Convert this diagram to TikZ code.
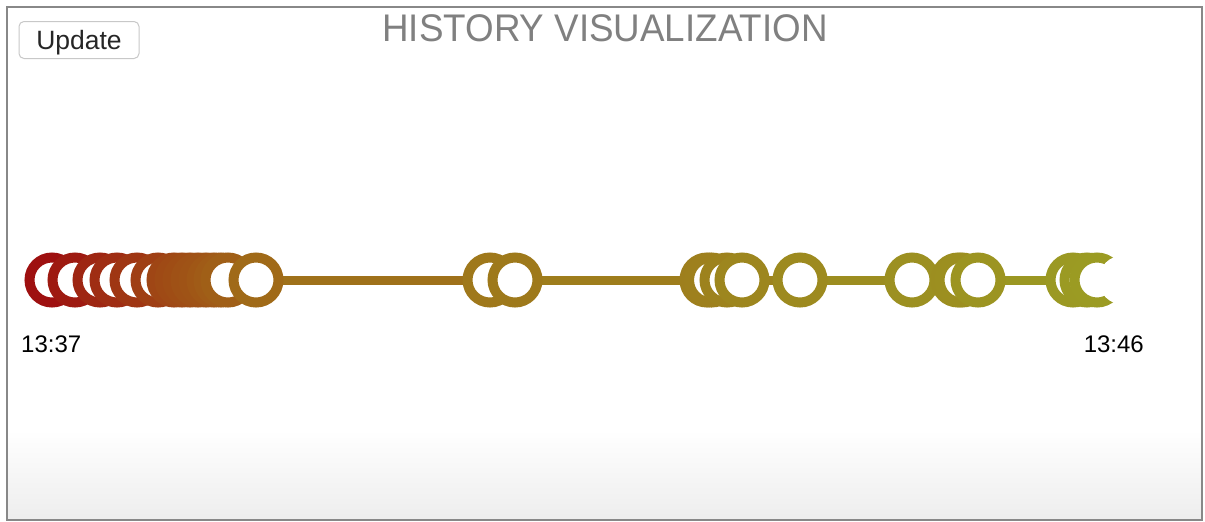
\documentclass[tikz,border=0pt]{standalone}
\usepackage{fontspec}
\setmainfont{Liberation Sans}
\pgfdeclarelayer{bg}
\pgfdeclarelayer{lines}
\pgfsetlayers{bg,lines,main}
\definecolor{red0}{RGB}{158,16,16}
\definecolor{och}{RGB}{160,106,24}
\definecolor{oli}{RGB}{155,155,35}
\definecolor{titlegray}{RGB}{128,128,128}
\definecolor{framegray}{RGB}{136,136,136}
\definecolor{btnborder}{RGB}{200,200,200}
\newcommand\hcirc[3]{\node[ring, draw={#3}] (#1) at (#2,280) {};}
\tikzset{
  ring/.style={circle, minimum size=45pt, inner sep=0pt, line width=10pt, fill=white},
  seg/.style={line width=9pt},
  lbl/.style={inner sep=0pt, font=\fontsize{24}{28}\selectfont, text=black},
}
\begin{document}
\begin{tikzpicture}[x=1pt,y=-1pt]
\useasboundingbox (0,0) rectangle (1205,522);
\begin{pgfonlayer}{bg}
  \fill[white] (0,0) rectangle (1205,522);
  \shade[top color=white, bottom color=black!7] (7,430) rectangle (1202,520);
  \draw[framegray, line width=1.8pt] (7,7) rectangle (1202,520);
\end{pgfonlayer}
% title and button
\node[anchor=base, inner sep=0pt, text=titlegray, font=\fontsize{38.5}{40}\selectfont] (title) at (605,41) {\scalebox{0.955}[1]{HISTORY VISUALIZATION}};
\node[draw=btnborder, fill=white, rounded corners=5pt, line width=1pt, minimum width=120pt, minimum height=37pt, inner sep=0pt, text depth=0pt, text height=19pt, text={black!85}, font=\fontsize{26.5}{30}\selectfont] (upd) at (79,40) {Update};
% circles
\hcirc{c1}{52}{red0}
\hcirc{c2}{75}{och!11!red0}
\hcirc{c3}{100}{och!24!red0}
\hcirc{c4}{117}{och!32!red0}
\hcirc{c5}{137}{och!42!red0}
\hcirc{c6}{158}{och!52!red0}
\hcirc{c7}{174}{och!60!red0}
\hcirc{c8}{182}{och!64!red0}
\hcirc{c9}{190}{och!68!red0}
\hcirc{c10}{198}{och!72!red0}
\hcirc{c11}{206}{och!75!red0}
\hcirc{c12}{214}{och!79!red0}
\hcirc{c13}{221}{och!83!red0}
\hcirc{c14}{228}{och!88!red0}
\hcirc{c15}{256}{och}
\hcirc{c16}{490}{oli!28!och}
\hcirc{c17}{515}{oli!31!och}
\hcirc{c18}{707}{oli!42!och}
\hcirc{c19}{711.5}{oli!44!och}
\hcirc{c20}{727}{oli!50!och}
\hcirc{c21}{742}{oli!58!och}
\hcirc{c22}{800}{oli!65!och}
\hcirc{c23}{912}{oli!78!och}
\hcirc{c24}{958}{oli!74!och}
\hcirc{c25}{962}{oli!76!och}
\hcirc{c26}{978}{oli!86!och}
\hcirc{c27}{1073}{oli!96!och}
\hcirc{c28}{1087}{oli!98!och}
\hcirc{c29}{1097}{oli}
\node[circle, fill=white, minimum size=49pt, inner sep=0pt] (cur) at (1123,280) {};
% connecting line
\begin{pgfonlayer}{lines}
  \draw[seg, draw=och!45!red0] (c1.center) -- (c6.center);
  \draw[seg, draw=och!80!red0] (c6.center) -- (c15.center);
  \draw[seg, draw=oli!14!och] (c15.center) -- (c16.center);
  \draw[seg, draw=oli!30!och] (c16.center) -- (c17.center);
  \draw[seg, draw=oli!38!och] (c17.center) -- (c18.center);
  \draw[seg, draw=oli!52!och] (c18.center) -- (c22.center);
  \draw[seg, draw=oli!72!och] (c22.center) -- (c23.center);
  \draw[seg, draw=oli!80!och] (c23.center) -- (c26.center);
  \draw[seg, draw=oli!92!och] (c26.center) -- (c27.center);
  \draw[seg, draw=oli] (c27.center) -- (c29.center);
\end{pgfonlayer}
% time labels
\node[lbl, anchor=base west] (t0) at (21,352) {13:37};
\node[lbl, anchor=base east] (t1) at (1144,352) {13:46};
\end{tikzpicture}
\end{document}
